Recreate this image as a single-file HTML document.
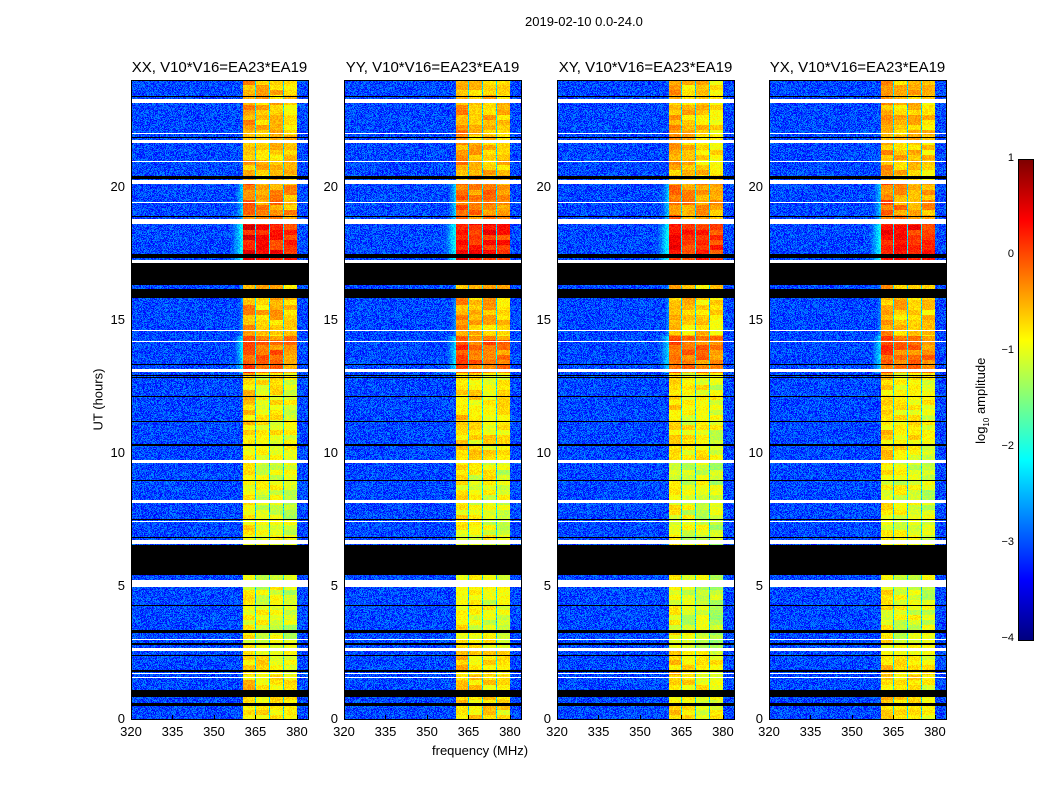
<!DOCTYPE html>
<html><head><meta charset="utf-8">
<style>
body{margin:0;background:#fff;width:1050px;height:800px;overflow:hidden;position:relative;font-family:"Liberation Sans",sans-serif;color:#000}
.t{position:absolute;white-space:nowrap;font-size:13px}
canvas{position:absolute;image-rendering:pixelated}
.frame{position:absolute;border:1px solid #000;box-sizing:border-box}
</style></head><body>
<div class="t" style="left:525px;top:14px">2019-02-10 0.0-24.0</div>
<div id="root"></div>
<div class="t" style="left:50px;top:392px;transform:rotate(-90deg);width:96px;text-align:center">UT (hours)</div>
<div class="t" style="left:432px;top:743px">frequency (MHz)</div>
<canvas id="cb" width="14" height="480" style="left:1019px;top:160px;width:14px;height:480px;border:1px solid #000;box-sizing:content-box;margin-left:-1px;margin-top:-1px"></canvas>
<div class="t" style="left:918px;top:392px;transform:rotate(-90deg);width:128px;text-align:center">log<sub style="font-size:8px">10</sub> amplitude</div>
<script>
const panelTitles=["XX, V10*V16=EA23*EA19","YY, V10*V16=EA23*EA19","XY, V10*V16=EA23*EA19","YX, V10*V16=EA23*EA19"];
const xTicks=[320,335,350,365,380];
const yTicks=[0,5,10,15,20];
const cbTicks=[1,0,-1,-2,-3,-4];
const whiteRows=[[23.14,23.3],[22.56,22.59],[21.99,22.02],[21.64,21.74],[20.91,20.94],[20.1,20.24],[19.37,19.4],[18.6,18.77],[17.13,17.24],[16.25,16.27],[16.17,16.19],[14.86,14.89],[14.59,14.62],[14.15,14.18],[13.04,13.14],[11.03,11.06],[9.62,9.72],[8.36,8.39],[8.12,8.23],[7.39,7.42],[6.58,6.72],[4.97,5.22],[3.63,3.66],[3.44,3.47],[2.96,2.99],[2.56,2.67],[1.68,1.71],[1.53,1.56],[1.19,1.22],[0.4,0.43]];
const blackRows=[[23.37,23.41],[21.83,21.87],[20.28,20.39],[18.87,18.91],[17.31,17.46],[16.3,17.12],[15.8,16.14],[13.31,13.35],[12.88,12.92],[12.82,12.85],[12.08,12.12],[11.17,11.21],[10.27,10.31],[8.95,8.99],[7.49,7.53],[6.81,6.85],[5.41,6.53],[4.26,4.3],[3.23,3.34],[2.78,2.85],[2.38,2.42],[1.76,1.84],[0.83,1.09],[0.49,0.6]];
const bandStart=[0,2.6,5.2,9.7,13.0,14.4,16.0,17.1,18.7,20.2];
const bandLevel=[-0.8,-1.0,-1.0,-0.85,-0.2,-0.6,-0.6,0.2,-0.35,-0.6];
const hazeLevel=[-3.6,-3.6,-3.5,-3.5,-2.5,-2.9,-2.9,-2.3,-2.6,-3.2];
const panelOffsetDb=[0,0.05,-0.05,0.0];
const subBands=[[360.4,364.8],[365.3,369.8],[370.3,374.8],[375.3,379.9]];

const X0=[131,344,557,769],W=177,TOP=80,BOT=719,H=BOT-TOP,FMIN=320,FMAX=384,HMAX=24;
function fx(f){return (f-FMIN)/(FMAX-FMIN)*W}
function hy(h){return H-(h/HMAX)*H}
function jet(v){let t=(v+4)/5;t=Math.max(0,Math.min(1,t));
 const r=Math.min(Math.max(Math.min(4*t-1.5,-4*t+4.5),0),1),g=Math.min(Math.max(Math.min(4*t-0.5,-4*t+3.5),0),1),b=Math.min(Math.max(Math.min(4*t+0.5,-4*t+2.5),0),1);
 return [r*255|0,g*255|0,b*255|0]}
function hash(a,b,c){let n=(a*374761393+b*668265263+c*2147483647)|0;n=(n^(n>>>13))*1274126177|0;return ((n^(n>>>16))>>>0)/4294967295}
function inR(list,h){for(const r of list)if(h>=r[0]&&h<=r[1])return true;return false}
function seg(h){let i=0;for(let k=0;k<bandStart.length;k++)if(h>=bandStart[k])i=k;return i}
const root=document.getElementById('root');
panelTitles.forEach((title,p)=>{
 const t=document.createElement('div');t.className='t';t.style.cssText=`left:${X0[p]-20}px;top:59px;width:${W+40}px;text-align:center;font-size:15px`;t.textContent=title;
 
 
 root.appendChild(t);
 const c=document.createElement('canvas');c.width=W;c.height=H;c.style.left=X0[p]+'px';c.style.top=TOP+'px';
 
 
 root.appendChild(c);
 const ctx=c.getContext('2d'),img=ctx.createImageData(W,H);
 for(let y=0;y<H;y++){const h=(H-y-0.5)/H*HMAX;
  const white=inR(whiteRows,h),black=inR(blackRows,h);const s=seg(h);
  for(let x=0;x<W;x++){const f=FMIN+(x+0.5)/W*(FMAX-FMIN);let col;
   if(white)col=[255,255,255];else if(black)col=[0,0,0];else{
    const n=hash(x,y,p+1);let v=-3.4+n*0.75;
    if(f>350&&f<360.4){const w=(f-350)/10.4;v=Math.max(v,hazeLevel[s]-(1-w*w)*1.5+n*0.5)}
    for(let b=0;b<subBands.length;b++){const sb=subBands[b];if(f>=sb[0]&&f<=sb[1]){
      const cell=(hash(Math.floor(y/5),b,p+11)-0.5)*0.5;
      v=bandLevel[s]+cell+panelOffsetDb[p]+(n-0.5)*0.3+(b===0?0.15:0)-(b===3?0.1:0)}}
    if(f>364.8&&f<365.3||f>369.8&&f<370.3||f>374.8&&f<375.3)v=-2.6+n*0.6;
    col=jet(v)}
   const i=(y*W+x)*4;img.data[i]=col[0];img.data[i+1]=col[1];img.data[i+2]=col[2];img.data[i+3]=255}}
 ctx.putImageData(img,0,0);
 const fr=document.createElement('div');fr.className='frame';fr.style.cssText=`left:${X0[p]}px;top:${TOP}px;width:${W+1}px;height:${H+1}px`;
 
 
 root.appendChild(fr);
 xTicks.forEach(v=>{const l=document.createElement('div');l.className='t';l.style.cssText=`left:${X0[p]+fx(v)-15}px;top:724px;width:30px;text-align:center`;l.textContent=v;
  
  
  root.appendChild(l);
  const k=document.createElement('div');k.style.cssText=`position:absolute;left:${X0[p]+fx(v)}px;top:${BOT-4}px;width:1px;height:4px;background:#000`;
  
  
  root.appendChild(k)});
 yTicks.forEach(v=>{const l=document.createElement('div');l.className='t';l.style.cssText=`left:${X0[p]-36}px;top:${TOP+hy(v)-8}px;width:30px;text-align:right`;l.textContent=v;
  
  
  root.appendChild(l)});
});
const cb=document.getElementById('cb'),cc=cb.getContext('2d');
for(let y=0;y<480;y++){const v=1-(y+0.5)/480*5;const c=jet(v);cc.fillStyle=`rgb(${c})`;cc.fillRect(0,y,14,1)}
cbTicks.forEach(v=>{const l=document.createElement('div');l.className='t';l.style.cssText=`left:${975}px;top:${160+(1-v)/5*480-8}px;width:39px;text-align:right;font-size:11px`;l.textContent=v<0?'\u2212'+(-v):v;
 
 
 root.appendChild(l)});
</script>
</body></html>
